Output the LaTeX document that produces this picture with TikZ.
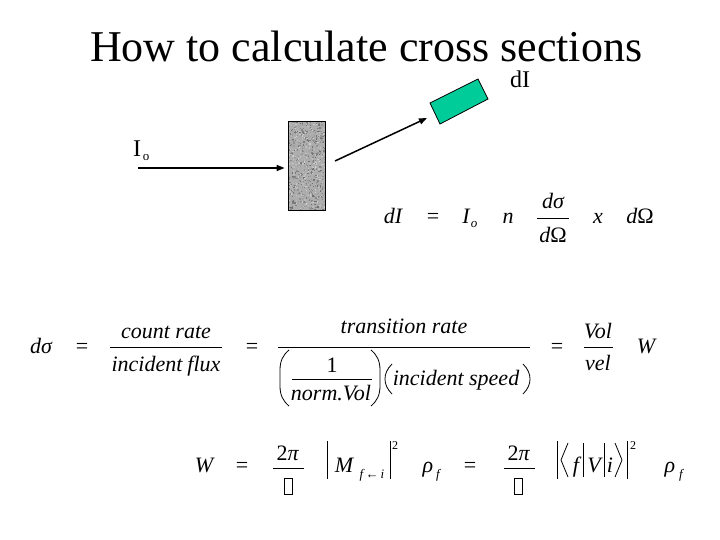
\documentclass[tikz,border=0pt]{standalone}
\usepackage{fontspec}
\setmainfont{Liberation Serif}
\usetikzlibrary{arrows.meta}
\definecolor{detgreen}{RGB}{0,204,153}
\tikzset{
  lbl/.style={inner sep=0pt, outer sep=0pt, anchor=base},
  eqit/.style={lbl, font=\fontsize{22}{26}\selectfont\itshape},
  equp/.style={lbl, font=\fontsize{22}{26}\selectfont},
  subit/.style={lbl, font=\fontsize{13}{15}\selectfont\itshape},
  supnum/.style={lbl, font=\fontsize{12}{14}\selectfont},
  fracbar/.style={line width=0.8pt},
  delim/.style={line width=0.8pt},
  beam/.style={line width=1.5pt, -{Triangle[length=8pt,width=6pt]}},
  hbox/.style={line width=0.8pt},
}
\begin{document}
\begin{tikzpicture}[x=1pt,y=-1pt]
\useasboundingbox (0,0) rectangle (720,540);
\fill[white] (0,0) rectangle (720,540);

% title
\node[lbl, font=\fontsize{44}{50}\selectfont, anchor=base west] (title) at (90,62) {How to calculate cross sections};

% target
\begin{scope}
  \clip (288,121) rectangle (325,210);
  \fill[black!32] (288,121) rectangle (325,210);
  \pgfmathsetseed{7}
  \foreach \k in {1,...,900}{
    \pgfmathsetmacro\px{306.5+18.5*rand}
    \pgfmathsetmacro\py{165.5+44.5*rand}
    \pgfmathsetmacro\sh{int(18+40*rnd)}
    \fill[black!\sh] (\px,\py) rectangle ++(1.3,1.3);
  }
\end{scope}
\node[draw, line width=0.8pt, minimum width=37pt, minimum height=89pt, inner sep=0pt] (target) at (306.5,165.5) {};

% detector
\draw[fill=detgreen, line width=0.8pt] (430,103) -- (478,79) -- (488,99) -- (440,124) -- cycle;
\coordinate (detin) at (427,118);

% beams
\coordinate (src) at (138,168);
\draw[beam, shorten >=3pt] (src) -- (target.west |- src);
\coordinate (scat) at (335,161);
\draw[beam] (scat) -- (detin);

% labels
\node[lbl, font=\fontsize{24}{28}\selectfont] (dIlab) at (520,88) {dI};
\node[lbl, font=\fontsize{24}{28}\selectfont] (Iolab) at (137,157) {I};
\node[lbl, font=\fontsize{13}{15}\selectfont] (Iosub) at (146,161) {o};

% row 1
\node[eqit] (dI) at (393,223) {dI};
\node[equp] (eqa) at (433,223) {=};
\node[eqit] (Io) at (466,223) {I};
\node[subit] (Ios) at (474,228) {o};
\node[eqit] (n1) at (508,223) {n};
\node[eqit] (num1) at (553,208) {dσ};
\draw[fracbar] (537,218) -- (569,218);
\node[eqit] (den1) at (553,242) {d{\upshape Ω}};
\node[eqit] (x1) at (598,223) {x};
\node[eqit] (dO) at (640,223) {d{\upshape Ω}};

% row 2
\node[eqit] (ds) at (41,353) {dσ};
\node[equp] (eqb) at (82,353) {=};
\node[eqit] (cr) at (166,338) {count rate};
\draw[fracbar] (110,347) -- (222,347);
\node[eqit] (ifl) at (166,371) {incident\hspace{5pt}flux};
\node[equp] (eqc) at (252,353) {=};
\node[eqit] (tr) at (404,333) {transition rate};
\draw[fracbar] (278,347) -- (530,347);
\draw[delim] (289,350) .. controls (283,355) and (280,361) .. (280,370) -- (280,386) .. controls (280,395) and (283,401) .. (289,406);
\draw[delim] (371,350) .. controls (377,355) and (380,361) .. (380,370) -- (380,386) .. controls (380,395) and (377,401) .. (371,406);
\node[equp] (one) at (332,372) {1};
\draw[fracbar] (292,379) -- (372,379);
\node[eqit] (nv) at (331,400) {norm.Vol};
\draw[delim] (392,364) .. controls (387,369) and (385,374) .. (385,379) .. controls (385,384) and (387,389) .. (392,394);
\node[eqit] (isp) at (456,385) {incident speed};
\draw[delim] (523,364) .. controls (528,369) and (530,374) .. (530,379) .. controls (530,384) and (528,389) .. (523,394);
\node[equp] (eqd) at (557,353) {=};
\node[eqit] (vol) at (598,338) {Vol};
\draw[fracbar] (584,347) -- (613,347);
\node[eqit] (vel) at (598,370) {vel};
\node[eqit] (W1) at (646,353) {W};

% row 3
\node[eqit] (W2) at (204,472) {W};
\node[equp] (eqe) at (242,472) {=};
\node[equp] (tp1) at (288,460) {2\textit{π}};
\draw[fracbar] (273,468) -- (304,468);
\draw[hbox] (284,478) rectangle (292,494);
\draw[delim] (327,441) -- (327,479);
\node[eqit] (M) at (344,472) {M};
\node[subit] (Msub) at (372,478) {f\,{\upshape ←}\,i};
\draw[delim] (390,441) -- (390,479);
\node[supnum] (sq1) at (395,449) {2};
\node[eqit] (rho1) at (428,472) {ρ};
\node[subit] (rho1s) at (438,478) {f};
\node[equp] (eqf) at (470,472) {=};
\node[equp] (tp2) at (519,460) {2\textit{π}};
\draw[fracbar] (504,468) -- (535,468);
\draw[hbox] (514,478) rectangle (522,494);
\draw[delim] (557,441) -- (557,479);
\draw[delim] (568,443) -- (561,460) -- (568,477);
\node[eqit] (fbra) at (576,472) {f};
\draw[delim] (583,443) -- (583,477);
\node[eqit] (V) at (594,472) {V};
\draw[delim] (604,443) -- (604,477);
\node[eqit] (iket) at (610,472) {i};
\draw[delim] (615,443) -- (622,460) -- (615,477);
\draw[delim] (627,441) -- (627,479);
\node[supnum] (sq2) at (633,449) {2};
\node[eqit] (rho2) at (670,472) {ρ};
\node[subit] (rho2s) at (681,478) {f};
\end{tikzpicture}
\end{document}
